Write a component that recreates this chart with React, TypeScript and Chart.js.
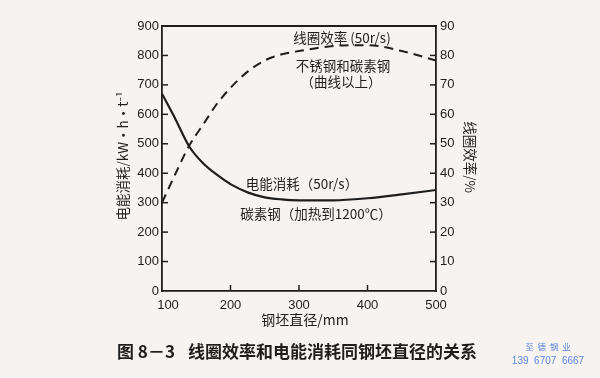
import React, { useEffect, useRef } from "react";
import { Chart, registerables } from "chart.js";

Chart.register(...registerables);

// Billet diameter, mm
const diameters = [100, 120, 140, 160, 180, 200, 225, 250, 275, 300, 350, 400, 450, 500];
// Electric energy consumption, kW·h·t⁻¹ (left axis)
const energyUse = [670, 582, 490, 434, 395, 363, 335, 318, 311, 308, 308, 315, 328, 343];
// Coil efficiency, % (right axis)
const coilEfficiency = [30, 40, 49.5, 56.5, 63.5, 69, 74.5, 78.3, 80.4, 81.5, 83.2, 83.5, 81.5, 78.3];

const xTickValues = [100, 200, 300, 400, 500];
const leftTickValues = [0, 100, 200, 300, 400, 500, 600, 700, 800, 900];
const rightTickValues = [0, 10, 20, 30, 40, 50, 60, 70, 80, 90];

const INK = "#1e1e1e";
const CJK = '"Noto Sans CJK SC", "Noto Sans", sans-serif';
const NUM = '"Liberation Sans", Arial, sans-serif';

const frameAndTicks = {
  id: "frameAndTicks",
  afterDatasetsDraw(chart: any) {
    const { ctx, chartArea, scales } = chart;
    ctx.save();
    ctx.strokeStyle = INK;
    ctx.lineWidth = 1.8;
    // top border
    ctx.beginPath();
    ctx.moveTo(chartArea.left - 1, chartArea.top);
    ctx.lineTo(chartArea.right + 1, chartArea.top);
    ctx.stroke();
    const len = 6;
    ctx.lineWidth = 1.5;
    ctx.fillStyle = INK;
    ctx.font = `13px ${NUM}`;
    const x = scales.x;
    ctx.textAlign = "center";
    ctx.textBaseline = "middle";
    xTickValues.forEach((v, i) => {
      const px = x.getPixelForValue(v);
      if (v !== 100 && v !== 500) {
        ctx.beginPath();
        ctx.moveTo(px, chartArea.bottom);
        ctx.lineTo(px, chartArea.bottom - len);
        ctx.stroke();
      }
      const shift = i === 0 ? 6 : 0;
      ctx.fillText(String(v), px + shift, chartArea.bottom + 14);
    });
    const y = scales.y;
    ctx.textAlign = "right";
    leftTickValues.forEach((v) => {
      const py = y.getPixelForValue(v);
      if (v !== 0 && v !== 900) {
        ctx.beginPath();
        ctx.moveTo(chartArea.left, py);
        ctx.lineTo(chartArea.left + len, py);
        ctx.stroke();
      }
      ctx.fillText(String(v), chartArea.left - 3, py);
    });
    const y2 = scales.y2;
    ctx.textAlign = "left";
    rightTickValues.forEach((v) => {
      const py = y2.getPixelForValue(v);
      if (v !== 0 && v !== 90) {
        ctx.beginPath();
        ctx.moveTo(chartArea.right, py);
        ctx.lineTo(chartArea.right - len, py);
        ctx.stroke();
      }
      ctx.fillText(String(v), chartArea.right + 4, py);
    });
    ctx.restore();
  },
};

const texts = {
  id: "texts",
  afterDraw(chart: any) {
    const { ctx } = chart;
    ctx.save();
    ctx.fillStyle = INK;
    ctx.textBaseline = "middle";
    ctx.textAlign = "center";
    ctx.font = `13.5px ${CJK}`;
    ctx.fillText("线圈效率 (50r/s)", 342, 38);
    ctx.fillText("不锈钢和碳素钢", 343, 66);
    ctx.fillText("（曲线以上）", 341, 82);
    ctx.fillText("电能消耗（50r/s）", 302, 184);
    ctx.fillText("碳素钢（加热到1200℃）", 316, 214);

    // x axis title
    ctx.font = `14px ${CJK}`;
    ctx.fillText("钢坯直径/mm", 305, 320);

    // left axis title
    ctx.save();
    ctx.translate(123, 156);
    ctx.rotate(-Math.PI / 2);
    ctx.font = `13.5px ${CJK}`;
    ctx.fillText("电能消耗/kW·h·t⁻¹", 0, 0);
    ctx.restore();

    // right axis title
    ctx.save();
    ctx.translate(470, 157);
    ctx.rotate(Math.PI / 2);
    ctx.font = `13.5px ${CJK}`;
    ctx.fillText("线圈效率/%", 0, 0);
    ctx.restore();

    // caption
    ctx.textAlign = "left";
    ctx.font = `600 17px ${CJK}`;
    ctx.fillText("图 8－3", 117, 352);
    ctx.fillText("线圈效率和电能消耗同钢坯直径的关系", 188, 352);

    // watermark
    ctx.fillStyle = "#5b86e0";
    ctx.textAlign = "center";
    ctx.font = `8.5px ${CJK}`;
    ctx.fillText("至  德  钢  业", 548, 347);
    ctx.font = `10px ${NUM}`;
    ctx.fillText("139  6707  6667", 548, 361);
    ctx.restore();
  },
};

const background = {
  id: "background",
  beforeDraw(chart: any) {
    const { ctx, width, height } = chart;
    ctx.save();
    ctx.fillStyle = "#f7f3f1";
    ctx.fillRect(0, 0, width, height);
    ctx.restore();
  },
};

export default function App() {
  const ref = useRef<HTMLCanvasElement | null>(null);

  useEffect(() => {
    document.body.style.margin = "0";
    const canvas = ref.current;
    if (!canvas) return;
    const chart = new Chart(canvas, {
      type: "line",
      data: {
        datasets: [
          {
            label: "电能消耗",
            data: diameters.map((d, i) => ({ x: d, y: energyUse[i] })),
            yAxisID: "y",
            borderColor: INK,
            borderWidth: 2.2,
            pointRadius: 0,
            cubicInterpolationMode: "monotone",
            fill: false,
          },
          {
            label: "线圈效率",
            data: diameters.map((d, i) => ({ x: d, y: coilEfficiency[i] })),
            yAxisID: "y2",
            borderColor: INK,
            borderWidth: 2,
            borderDash: [9, 6],
            pointRadius: 0,
            cubicInterpolationMode: "monotone",
            fill: false,
          },
        ],
      },
      options: {
        responsive: false,
        animation: false,
        devicePixelRatio: 1,
        layout: { padding: { left: 162, right: 164, top: 26, bottom: 87 } },
        plugins: { legend: { display: false }, tooltip: { enabled: false } },
        scales: {
          x: {
            type: "linear",
            min: 100,
            max: 500,
            afterFit: (s: any) => { s.height = 0; },
            ticks: { display: false, stepSize: 100 },
            grid: { drawOnChartArea: false, drawTicks: false },
            border: { display: true, color: INK, width: 1.8 },
          },
          y: {
            type: "linear",
            position: "left",
            min: 0,
            max: 900,
            afterFit: (s: any) => { s.width = 0; },
            ticks: { display: false, stepSize: 100 },
            grid: { drawOnChartArea: false, drawTicks: false },
            border: { display: true, color: INK, width: 1.8 },
          },
          y2: {
            type: "linear",
            position: "right",
            min: 0,
            max: 90,
            afterFit: (s: any) => { s.width = 0; },
            ticks: { display: false, stepSize: 10 },
            grid: { drawOnChartArea: false, drawTicks: false },
            border: { display: true, color: INK, width: 1.8 },
          },
        },
      },
      plugins: [background, frameAndTicks, texts],
    } as any);
    return () => chart.destroy();
  }, []);

  return (
    <div style={{ position: "absolute", left: 0, top: 0, width: 600, height: 378 }}>
      <canvas ref={ref} width={600} height={378} style={{ display: "block", width: 600, height: 378 }} />
    </div>
  );
}
